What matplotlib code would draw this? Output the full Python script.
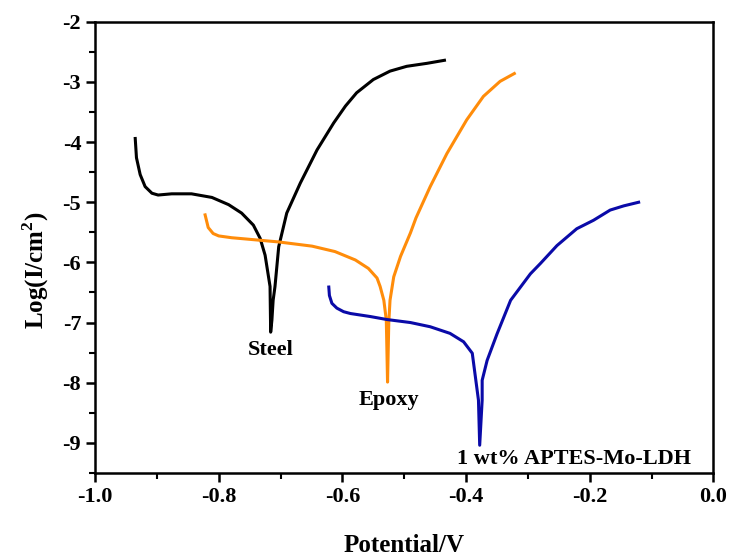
import numpy as np
import matplotlib
matplotlib.use("Agg")
import matplotlib.pyplot as plt
from matplotlib.ticker import MultipleLocator

plt.rcParams['font.family'] = ['Liberation Serif', 'DejaVu Serif']
plt.rcParams['font.weight'] = 'bold'
plt.rcParams['mathtext.fontset'] = 'custom'
plt.rcParams['mathtext.bf'] = 'Liberation Serif:bold'
plt.rcParams['mathtext.rm'] = 'Liberation Serif:bold'

# Tafel curves (potential in V, log current density)
steel_E = [-0.935, -0.933, -0.927, -0.919, -0.908, -0.898, -0.876, -0.844, -0.811,
           -0.784, -0.763, -0.744, -0.733, -0.725, -0.717, -0.716, -0.714, -0.712,
           -0.709, -0.703, -0.690, -0.668, -0.641, -0.614, -0.595, -0.577, -0.550,
           -0.523, -0.496, -0.463, -0.435]
steel_logI = [-3.94, -4.26, -4.54, -4.74, -4.85, -4.88, -4.86, -4.86, -4.92,
              -5.04, -5.18, -5.38, -5.60, -5.88, -6.40, -7.16, -6.96, -6.63,
              -6.40, -5.74, -5.18, -4.68, -4.13, -3.68, -3.40, -3.18, -2.96,
              -2.82, -2.74, -2.69, -2.64]

epoxy_E = [-0.822, -0.817, -0.809, -0.800, -0.779, -0.757, -0.703, -0.649, -0.612,
           -0.579, -0.558, -0.544, -0.539, -0.533, -0.529, -0.527, -0.525, -0.523,
           -0.517, -0.506, -0.490, -0.481, -0.458, -0.431, -0.399, -0.372, -0.345,
           -0.322]
epoxy_logI = [-5.21, -5.42, -5.52, -5.56, -5.59, -5.61, -5.66, -5.73, -5.82,
              -5.96, -6.10, -6.26, -6.40, -6.63, -6.96, -7.99, -7.00, -6.63,
              -6.24, -5.90, -5.51, -5.26, -4.74, -4.19, -3.63, -3.24, -2.99,
              -2.86]

ldh_E = [-0.622, -0.621, -0.617, -0.609, -0.598, -0.587, -0.555, -0.528, -0.490,
         -0.458, -0.426, -0.404, -0.390, -0.385, -0.380, -0.378, -0.374, -0.374,
         -0.366, -0.350, -0.328, -0.296, -0.280, -0.253, -0.221, -0.194, -0.167,
         -0.145, -0.121]
ldh_logI = [-6.41, -6.55, -6.68, -6.76, -6.82, -6.85, -6.90, -6.95, -7.00,
            -7.07, -7.18, -7.32, -7.51, -7.90, -8.29, -9.04, -8.29, -7.96,
            -7.63, -7.19, -6.63, -6.19, -6.02, -5.72, -5.44, -5.30, -5.13,
            -5.06, -5.00]

labels = ["Steel", "Epoxy", "1 wt% APTES-Mo-LDH"]
label_pos = [(-0.716, -7.46), (-0.524, -8.29), (-0.225, -9.27)]

fig = plt.figure(figsize=(7.31, 5.59), dpi=100)
ax = fig.add_axes([0.130, 0.154, 0.846, 0.807])

ax.plot(steel_E, steel_logI, color='black', lw=2.2)
ax.plot(epoxy_E, epoxy_logI, color='#ff8c0a', lw=2.2)
ax.plot(ldh_E, ldh_logI, color='#0a0aa8', lw=2.2)

for txt, (x, y) in zip(labels, label_pos):
    ax.text(x, y, txt, ha='center', va='center', fontsize=16, fontweight='bold')

ax.set_xlim(-1.0, 0.0)
ax.set_ylim(-9.5, -2)
ax.xaxis.set_major_locator(MultipleLocator(0.2))
ax.xaxis.set_minor_locator(MultipleLocator(0.1))
ax.yaxis.set_major_locator(MultipleLocator(1))
ax.yaxis.set_minor_locator(MultipleLocator(0.5))
ax.xaxis.set_major_formatter(plt.FuncFormatter(lambda v, p: f"{v:.1f}"))
ax.yaxis.set_major_formatter(plt.FuncFormatter(lambda v, p: f"{v:.0f}"))

for s in ax.spines.values():
    s.set_linewidth(1.8)
ax.tick_params(which='major', direction='out', length=6.5, width=1.8, labelsize=16)
ax.tick_params(which='minor', direction='out', length=4, width=1.5)

ax.set_xlabel("Potential/V", fontsize=18, fontweight='bold')
ax.set_ylabel("Log(I/cm$^{2}$)", fontsize=18, fontweight='bold')
ax.xaxis.set_label_coords(0.5, -0.135)
ax.yaxis.set_label_coords(-0.072, 0.45)

fig.savefig("out.png", dpi=100)
